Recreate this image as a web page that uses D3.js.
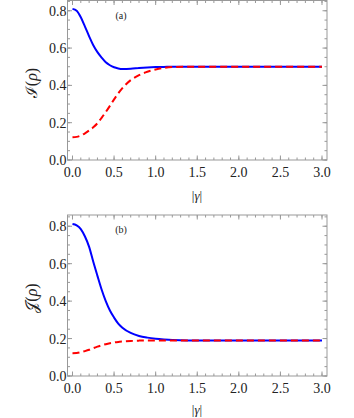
<!DOCTYPE html>
<html>
<head>
<meta charset="utf-8">
<script src="https://cdn.jsdelivr.net/npm/d3@7"></script>
<style>
  body { margin: 0; background: #fff; }
  svg { display: block; }
  .frame { fill: none; stroke: #999; stroke-width: 1; }
  .tk { stroke: #999; stroke-width: 1; }
</style>
</head>
<body>
<div class="wrapper"></div>
<script>
// |gamma| sample grid
var gamma = [0, 0.05, 0.1, 0.15, 0.2, 0.25, 0.3, 0.35, 0.4, 0.45, 0.5, 0.55, 0.6, 0.7, 0.8, 0.9, 1.0, 1.1, 1.2, 1.4, 1.6, 2.0, 2.5, 3.0];

// panel (a): I(rho)
var aBlue = [0.81, 0.80, 0.765, 0.715, 0.663, 0.615, 0.578, 0.549, 0.524, 0.508, 0.497, 0.491, 0.488, 0.489, 0.493, 0.496, 0.498, 0.499, 0.5, 0.5, 0.5, 0.5, 0.5, 0.5];
var aRed  = [0.122, 0.124, 0.131, 0.143, 0.158, 0.175, 0.197, 0.226, 0.257, 0.29, 0.325, 0.357, 0.385, 0.428, 0.455, 0.473, 0.485, 0.494, 0.498, 0.5, 0.5, 0.5, 0.5, 0.5];

// panel (b): J(rho)
var bBlue = [0.812, 0.805, 0.785, 0.745, 0.69, 0.61, 0.535, 0.462, 0.4, 0.35, 0.312, 0.28, 0.258, 0.23, 0.214, 0.205, 0.199, 0.195, 0.192, 0.19, 0.19, 0.19, 0.19, 0.19];
var bRed  = [0.122, 0.123, 0.127, 0.133, 0.14, 0.149, 0.157, 0.164, 0.17, 0.175, 0.179, 0.182, 0.184, 0.187, 0.189, 0.19, 0.19, 0.19, 0.19, 0.19, 0.19, 0.19, 0.19, 0.19];

var xTicks = [0, 0.5, 1.0, 1.5, 2.0, 2.5, 3.0];
var yTicks = [0, 0.2, 0.4, 0.6, 0.8];

var width = 354, height = 418;
var serif = "Liberation Serif";

var svg = d3.select(".wrapper").append("svg")
  .attr("width", width)
  .attr("height", height)
  .attr("font-family", serif);

function drawPanel(cfg) {
  var x = d3.scaleLinear().domain([-0.06, 3.06]).range([67.5, 327]);
  var y = d3.scaleLinear().domain([0, cfg.yMax]).range([cfg.bottom, cfg.top]);
  var g = svg.append("g");

  // minor ticks
  var xMinor = d3.range(0, 3.0001, 0.1);
  var yMinor = d3.range(0, cfg.yMax, 0.05);

  function addTicks(vals, len) {
    vals.forEach(function (v) {
      // bottom + top
      g.append("line").attr("class", "tk")
        .attr("x1", x(v)).attr("x2", x(v))
        .attr("y1", cfg.bottom).attr("y2", cfg.bottom - len);
      g.append("line").attr("class", "tk")
        .attr("x1", x(v)).attr("x2", x(v))
        .attr("y1", cfg.top).attr("y2", cfg.top + len);
    });
  }
  function addYTicks(vals, len) {
    vals.forEach(function (v) {
      g.append("line").attr("class", "tk")
        .attr("x1", x.range()[0]).attr("x2", x.range()[0] + len)
        .attr("y1", y(v)).attr("y2", y(v));
      g.append("line").attr("class", "tk")
        .attr("x1", x.range()[1]).attr("x2", x.range()[1] - len)
        .attr("y1", y(v)).attr("y2", y(v));
    });
  }
  addTicks(xMinor, 2.5);
  addTicks(xTicks, 4.5);
  addYTicks(yMinor, 2.5);
  addYTicks(yTicks, 4.5);

  g.append("rect").attr("class", "frame")
    .attr("x", x.range()[0]).attr("y", cfg.top)
    .attr("width", x.range()[1] - x.range()[0])
    .attr("height", cfg.bottom - cfg.top);

  // tick labels
  g.selectAll(".xl").data(xTicks).join("text")
    .style("font-family", serif)
    .style("font-size", "14px")
    .attr("fill", "#222")
    .attr("x", d => x(d))
    .attr("y", cfg.bottom + 17)
    .attr("text-anchor", "middle")
    .text(d3.format(".1f"));
  g.selectAll(".yl").data(yTicks).join("text")
    .style("font-family", serif)
    .style("font-size", "14px")
    .attr("fill", "#222")
    .attr("x", x.range()[0] - 1)
    .attr("y", d => y(d) + 5)
    .attr("text-anchor", "end")
    .text(d3.format(".1f"));

  // curves: blue under, red dashed on top
  var line = d3.line()
    .x((d, i) => x(gamma[i]))
    .y(d => y(d))
    .curve(d3.curveMonotoneX);

  g.append("path").datum(cfg.blue)
    .attr("d", line)
    .attr("fill", "none")
    .attr("stroke", "#0000ff")
    .attr("stroke-width", 2);
  g.append("path").datum(cfg.red)
    .attr("d", line)
    .attr("fill", "none")
    .attr("stroke", "#ff0000")
    .attr("stroke-width", 2)
    .attr("stroke-dasharray", "7,4");

  // panel tag
  g.append("text")
    .style("font-family", serif)
    .style("font-size", "10px")
    .attr("fill", "#222")
    .attr("x", 121).attr("y", cfg.top + cfg.tagDy)
    .attr("text-anchor", "middle")
    .text(cfg.tag);

  // x title
  var xt = g.append("text")
    .style("font-family", serif)
    .style("font-size", "13px")
    .attr("fill", "#222")
    .attr("x", 197).attr("y", cfg.bottom + cfg.xTitleDy)
    .attr("text-anchor", "middle");
  xt.append("tspan").text("|");
  xt.append("tspan").style("font-style", "italic").text("γ");
  xt.append("tspan").text("|");

  // y title
  var yt = g.append("text")
    .style("font-family", serif)
    .style("font-size", "16px")
    .attr("fill", "#222")
    .attr("transform", "translate(37," + cfg.yTitleY + ") rotate(-90)")
    .attr("text-anchor", "middle");
  yt.append("tspan").text(cfg.ySym);
  yt.append("tspan").text("(");
  yt.append("tspan").style("font-style", "italic").text("ρ");
  yt.append("tspan").text(")");
}

drawPanel({ top: 0.5, bottom: 160, yMax: 0.855, blue: aBlue, red: aRed, tag: "(a)", tagDy: 18, ySym: "ℐ", yTitleY: 83, xTitleDy: 40 });
drawPanel({ top: 215, bottom: 376, yMax: 0.86, blue: bBlue, red: bRed, tag: "(b)", tagDy: 18, ySym: "𝒥", yTitleY: 298, xTitleDy: 38 });
</script>
</body>
</html>
